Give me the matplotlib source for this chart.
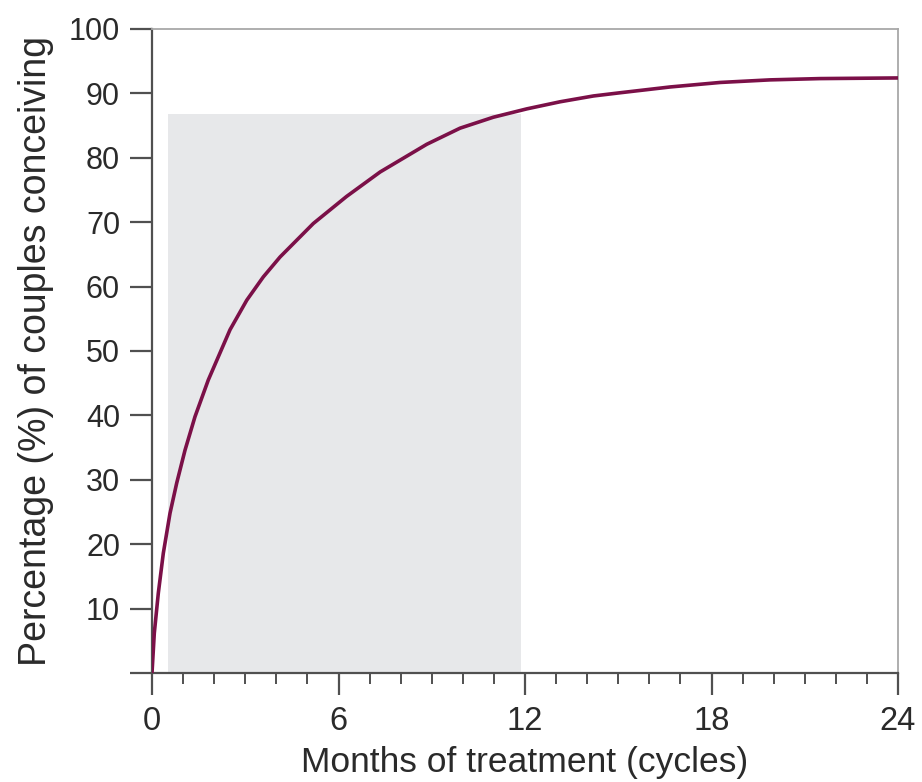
import matplotlib
matplotlib.use("Agg")
import matplotlib.pyplot as plt
from matplotlib.ticker import MultipleLocator

# Data
months = [0, 0.074, 0.203, 0.364, 0.579, 0.795, 1.062, 1.383, 1.811, 2.51,
          3.05, 3.58, 4.12, 5.19, 6.26, 7.34, 8.84, 9.91, 10.98, 12.06,
          13.13, 14.2, 15.06, 16.67, 18.28, 19.88, 21.49, 24]
pct = [0, 6.2, 12.4, 18.6, 24.8, 29.5, 34.6, 39.8, 45.5, 53.3,
       57.9, 61.5, 64.6, 69.8, 74.0, 77.8, 82.1, 84.6, 86.3, 87.6,
       88.7, 89.6, 90.1, 91.0, 91.7, 92.1, 92.3, 92.4]

shade_x = [0.5, 11.87]
shade_top = 86.8

x_major = [0, 6, 12, 18, 24]
y_ticks = [0, 10, 20, 30, 40, 50, 60, 70, 80, 90, 100]
y_labels = ["", "10", "20", "30", "40", "50", "60", "70", "80", "90", "100"]

plt.rcParams['font.family'] = ['Liberation Sans', 'DejaVu Sans']

fig = plt.figure(figsize=(9.22, 7.82), dpi=100)
ax = fig.add_axes([152/922, 1-673/782, (898-152)/922, (673-29)/782])

ax.fill_between(shade_x, [0, 0], [shade_top, shade_top], color='#e7e8ea', lw=0, zorder=1)
ax.plot(months, pct, color='#7b1048', lw=2.6, zorder=3,
        solid_capstyle='butt', solid_joinstyle='round')

ax.set_xlim(0, 24)
ax.set_ylim(0, 100)

ax.set_xticks(x_major)
ax.set_xticklabels([str(v) for v in x_major])
ax.xaxis.set_minor_locator(MultipleLocator(1))
ax.set_yticks(y_ticks)
ax.set_yticklabels(y_labels)

dark = '#505050'
for s in ['left', 'bottom']:
    ax.spines[s].set_color(dark)
    ax.spines[s].set_linewidth(1.6)
for s in ['top', 'right']:
    ax.spines[s].set_color('#a8a8a8')
    ax.spines[s].set_linewidth(1.3)

ax.tick_params(axis='y', which='major', direction='out', length=16, width=1.6,
               color=dark, labelsize=22, labelcolor='#2a2a2a', pad=7)
ax.tick_params(axis='x', which='major', direction='out', length=16, width=1.6,
               color=dark, labelsize=23.5, labelcolor='#2a2a2a', pad=8)
ax.tick_params(axis='x', which='minor', direction='out', length=8, width=1.4,
               color=dark)

ax.set_xlabel('Months of treatment (cycles)', fontsize=25.5, color='#2a2a2a', labelpad=6)
ax.set_ylabel('Percentage (%) of couples conceiving', fontsize=27, color='#2a2a2a', labelpad=11)

fig.savefig('out.png', dpi=100)
